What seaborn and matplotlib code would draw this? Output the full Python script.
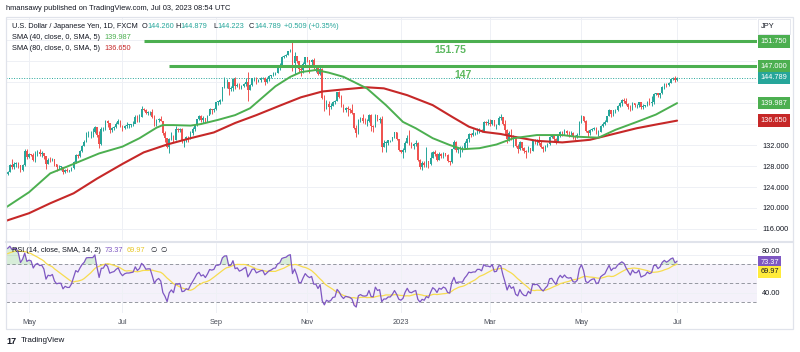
import numpy as np
import pandas as pd
import matplotlib
matplotlib.use("Agg")
import matplotlib.pyplot as plt
import matplotlib.transforms as mtransforms
from matplotlib.patches import Rectangle
from matplotlib.lines import Line2D
import seaborn as sns

# === DATA: USD/JPY daily candles, FXCM, 2022-04-14 .. 2023-07-03 ===
FIRST_OPEN = 125.6

closes = [
    # Apr 2022
    126.1, 126.4, 126.9, 128.2, 127.9, 128.4, 128.5, 128.1, 127.2, 128.2, 130.8, 129.7,
    # May
    130.2, 130.1, 129.1, 130.2, 130.6, 130.3, 130.4, 129.9, 128.3, 129.2, 129.1, 129.4, 128.3, 127.8, 127.9, 127.9, 126.9, 127.3, 127.1, 127.1, 127.6, 128.7,
    # Jun
    130.1, 129.9, 130.9, 131.9, 132.6, 134.3, 134.4, 134.4, 134.4, 135.5, 133.9, 132.2, 135.0, 135.1, 136.6, 136.2, 134.9, 135.2, 135.4, 136.1, 136.6, 135.7,
    # Jul
    135.2, 135.7, 135.9, 135.9, 136.0, 136.1, 137.4, 136.9, 137.4, 138.9, 138.6, 138.1, 138.2, 138.2, 137.3, 136.1, 136.7, 137.0, 136.6, 134.3, 133.3,
    # Aug
    131.6, 133.2, 133.8, 133.0, 135.0, 134.9, 135.1, 132.9, 133.0, 133.5, 133.3, 134.2, 135.0, 135.9, 137.0, 137.5, 136.8, 137.1, 136.6, 137.5, 138.8, 138.7, 138.9,
    # Sep
    140.2, 140.2, 140.5, 143.0, 144.0, 144.1, 142.6, 142.8, 144.6, 143.2, 143.5, 142.9, 143.2, 143.7, 144.1, 142.4, 143.4, 144.7, 144.8, 144.1, 144.4, 144.7,
    # Oct
    144.8, 144.1, 144.6, 145.1, 145.3, 145.7, 145.8, 146.9, 147.2, 148.7, 149.0, 149.2, 149.9, 150.2, 147.7, 149.0, 148.0, 146.4, 146.3, 147.5, 148.7,
    # Nov
    148.2, 147.9, 148.2, 146.6, 146.6, 145.6, 146.4, 141.0, 138.8, 139.9, 139.3, 139.5, 140.2, 140.3, 142.1, 141.2, 139.6, 138.6, 139.1, 138.9, 138.7, 138.1,
    # Dec
    135.3, 134.3, 136.8, 137.1, 136.6, 136.5, 136.6, 137.7, 135.6, 135.5, 137.8, 136.7, 136.9, 131.7, 132.4, 132.4, 132.9, 132.9, 133.5, 134.4, 133.1, 131.1,
    # Jan 2023
    130.6, 131.0, 132.4, 133.4, 132.1, 131.9, 132.2, 132.4, 129.2, 127.9, 128.5, 128.1, 128.9, 128.4, 129.6, 130.7, 130.2, 129.2, 130.2, 129.9, 130.4, 130.1,
    # Feb
    128.9, 128.7, 131.2, 132.6, 131.1, 131.4, 131.4, 131.4, 132.4, 133.1, 134.1, 134.0, 134.2, 134.2, 134.9, 134.9, 134.7, 136.4, 136.2, 136.2,
    # Mar
    136.1, 136.7, 135.8, 135.9, 137.2, 137.3, 136.1, 134.9, 133.2, 134.2, 133.4, 133.7, 131.8, 131.3, 132.5, 131.4, 130.8, 130.7, 131.5, 130.9, 132.8, 132.7, 132.8,
    # Apr
    132.4, 131.7, 131.3, 131.8, 132.2, 133.6, 133.7, 133.1, 132.6, 133.8, 134.5, 134.1, 134.7, 134.3, 134.2, 134.3, 133.7, 133.6, 133.9, 136.3,
    # May
    137.5, 136.6, 134.6, 134.3, 134.8, 135.1, 135.2, 134.3, 134.5, 135.7, 136.1, 136.4, 137.5, 138.7, 137.9, 138.6, 138.6, 139.5, 140.1, 140.6, 140.4, 139.8, 139.3,
    # Jun
    138.8, 140.0, 139.6, 139.6, 140.2, 139.2, 139.4, 139.6, 140.2, 140.0, 140.2, 141.8, 141.9, 141.5, 141.9, 143.1, 143.7, 143.5, 143.9, 144.5, 144.8, 144.3,
    # Jul
    144.789,
]

highs = [
    126.3, 126.7, 127.1, 128.4, 129.4, 128.7, 128.8, 128.7, 128.1, 128.4, 131.2, 131.2,
    130.4, 130.3, 130.4, 130.8, 131.0, 131.3, 130.8, 130.5, 130.0, 129.5, 129.7, 129.5, 129.4, 128.4, 128.2, 128.0, 127.9, 127.4, 127.6, 127.3, 127.8, 128.9,
    130.2, 130.2, 131.0, 132.0, 133.0, 134.5, 134.6, 134.6, 135.2, 135.6, 135.4, 134.7, 135.4, 135.4, 136.7, 136.7, 136.1, 135.4, 135.6, 136.4, 137.0, 136.8,
    135.9, 135.9, 136.4, 136.0, 136.1, 136.6, 137.7, 137.8, 137.9, 139.4, 139.1, 138.9, 138.4, 138.4, 138.9, 137.7, 136.9, 137.2, 137.5, 136.6, 134.6,
    133.4, 133.4, 134.5, 134.0, 135.6, 135.2, 135.2, 135.2, 133.2, 133.8, 133.8, 134.6, 135.4, 136.0, 137.0, 137.7, 137.7, 137.5, 137.1, 137.7, 139.0, 138.9, 139.1,
    140.2, 140.4, 140.8, 143.1, 145.0, 144.5, 144.1, 143.2, 144.7, 144.9, 143.9, 143.8, 143.4, 143.9, 144.7, 145.9, 143.6, 144.8, 144.9, 144.9, 144.6, 144.9,
    145.0, 144.9, 144.9, 145.3, 145.4, 145.9, 145.9, 146.9, 147.7, 148.9, 149.1, 149.4, 150.0, 150.3, 151.95, 149.7, 149.0, 148.0, 146.8, 147.9, 148.8,
    148.8, 148.3, 148.4, 148.5, 147.2, 146.7, 146.8, 146.6, 141.5, 140.6, 140.3, 140.0, 140.4, 140.6, 142.2, 142.3, 141.5, 139.8, 139.3, 139.4, 139.0, 139.9,
    138.1, 135.8, 137.0, 137.3, 137.9, 137.1, 136.9, 137.9, 138.0, 135.9, 138.0, 137.8, 137.4, 137.5, 132.9, 132.7, 133.0, 133.0, 133.6, 134.5, 134.5, 133.2,
    131.1, 131.4, 132.7, 134.0, 134.8, 132.6, 132.3, 132.9, 132.5, 129.3, 128.9, 128.9, 131.6, 128.9, 130.6, 130.9, 131.1, 130.4, 130.6, 130.4, 130.6, 130.5,
    130.2, 128.9, 131.2, 132.9, 132.7, 131.6, 131.8, 131.9, 132.7, 133.3, 134.3, 134.3, 135.1, 134.4, 135.2, 135.2, 135.1, 136.5, 136.5, 136.9,
    137.0, 136.8, 136.7, 136.0, 137.5, 137.9, 137.3, 136.7, 135.1, 134.6, 135.1, 134.0, 133.7, 132.2, 132.7, 132.6, 131.7, 131.0, 131.8, 131.4, 132.9, 133.1, 133.2,
    133.7, 132.7, 131.8, 132.0, 132.4, 133.8, 134.0, 133.9, 133.3, 133.9, 134.6, 134.6, 135.1, 134.9, 134.6, 134.7, 134.4, 134.0, 134.2, 136.6,
    137.8, 137.6, 136.7, 134.8, 135.1, 135.3, 135.5, 135.4, 134.8, 135.8, 136.3, 136.7, 137.6, 138.8, 138.7, 138.7, 138.9, 139.6, 140.2, 140.7, 140.9, 140.9, 140.0,
    139.6, 140.2, 140.1, 139.8, 140.2, 140.2, 139.9, 139.7, 140.3, 140.9, 141.3, 141.9, 142.0, 142.0, 142.0, 143.2, 143.9, 143.8, 144.1, 144.6, 145.0, 145.1,
    144.879,
]

lows = [
    125.4, 126.0, 126.2, 126.8, 127.5, 127.4, 127.8, 127.7, 126.9, 127.0, 128.0, 129.4,
    129.5, 129.9, 128.9, 128.8, 130.0, 130.0, 129.8, 129.4, 127.5, 128.3, 128.8, 128.9, 128.0, 127.0, 127.5, 127.3, 126.4, 126.6, 126.9, 126.8, 127.0, 127.5,
    128.6, 129.5, 129.7, 130.7, 131.8, 132.5, 133.6, 133.4, 133.6, 134.3, 133.5, 131.5, 132.0, 134.6, 134.9, 135.4, 134.3, 134.5, 134.8, 135.2, 136.0, 135.5,
    134.7, 135.1, 135.3, 135.3, 135.5, 135.6, 136.2, 136.4, 136.4, 137.4, 138.4, 137.9, 137.7, 137.8, 137.2, 135.6, 135.6, 136.4, 136.5, 134.0, 132.5,
    131.5, 130.4, 132.9, 132.6, 132.9, 134.5, 134.5, 132.3, 131.7, 132.5, 132.6, 133.1, 133.9, 134.6, 135.7, 136.8, 136.4, 136.2, 136.3, 136.3, 137.9, 138.0, 138.2,
    138.7, 139.6, 139.9, 140.4, 142.8, 142.9, 141.5, 142.3, 142.3, 142.6, 143.1, 142.6, 142.7, 143.1, 143.3, 140.3, 142.4, 143.3, 144.2, 143.6, 144.0, 144.1,
    144.5, 143.5, 143.9, 144.2, 144.7, 145.2, 145.3, 145.7, 146.3, 147.1, 148.5, 148.8, 149.1, 149.7, 146.2, 145.5, 147.6, 145.9, 145.1, 145.8, 147.3,
    147.9, 145.7, 147.2, 146.5, 146.0, 145.3, 145.3, 140.8, 138.5, 138.8, 137.7, 138.8, 139.5, 139.9, 140.3, 141.0, 139.2, 138.3, 138.2, 137.5, 138.1, 137.9,
    135.0, 133.6, 134.1, 136.4, 136.2, 136.1, 135.7, 136.4, 134.7, 134.5, 135.4, 136.6, 136.2, 130.6, 131.6, 130.6, 132.1, 132.6, 132.7, 133.4, 132.9, 130.8,
    130.5, 129.5, 130.6, 132.3, 132.0, 131.4, 131.3, 131.9, 128.9, 127.5, 127.2, 127.8, 127.9, 127.6, 128.1, 129.6, 130.0, 129.0, 129.1, 129.6, 129.5, 129.9,
    128.7, 128.1, 128.5, 131.2, 130.6, 130.5, 129.8, 130.7, 131.3, 131.5, 132.6, 133.6, 133.8, 133.9, 134.1, 134.3, 134.4, 134.7, 135.9, 135.9,
    135.7, 135.8, 135.7, 135.1, 135.8, 136.8, 135.9, 134.1, 132.3, 132.7, 133.0, 131.7, 131.6, 130.5, 131.1, 131.1, 130.4, 129.6, 130.6, 130.4, 130.9, 132.2, 132.1,
    132.0, 131.4, 130.6, 130.9, 131.6, 132.1, 133.3, 132.8, 132.2, 132.5, 133.5, 133.8, 133.9, 134.0, 133.5, 133.9, 133.1, 133.0, 133.3, 133.9,
    136.2, 136.3, 134.4, 133.5, 133.9, 134.6, 134.9, 134.1, 133.7, 134.4, 135.5, 135.9, 136.3, 137.5, 137.4, 137.6, 138.1, 138.5, 139.2, 139.5, 140.1, 139.6, 138.9,
    138.4, 138.7, 139.3, 139.1, 139.3, 138.8, 138.8, 139.2, 139.4, 139.7, 139.4, 139.9, 141.5, 141.2, 141.0, 141.8, 142.7, 143.0, 143.2, 143.8, 144.4, 144.1,
    144.223,
]

# closes before the visible window (Mar 1 .. Apr 13 2022), only used to warm up the RSI
warmup_closes = [
    114.9, 115.5, 115.5, 114.8, 115.3, 115.7, 115.8, 116.1, 117.3, 118.2, 118.3, 118.7,
    118.6, 119.2, 119.5, 120.8, 121.1, 122.3, 122.1, 123.8, 122.8, 121.8, 121.7,
    122.5, 122.8, 123.6, 123.8, 123.9, 124.3, 125.4, 125.4, 125.6,
]

# moving averages
sma40_dates = ["2022-04-14", "2022-05-02", "2022-05-16", "2022-05-26", "2022-06-08", "2022-06-16",
               "2022-07-01", "2022-07-13", "2022-07-25", "2022-07-28", "2022-08-04", "2022-08-16",
               "2022-08-23", "2022-09-02", "2022-09-14", "2022-09-23", "2022-10-03", "2022-10-11",
               "2022-10-20", "2022-10-27", "2022-11-07", "2022-11-15", "2022-11-24", "2022-12-09",
               "2022-12-22", "2023-01-03", "2023-01-11", "2023-01-23", "2023-02-02", "2023-02-10",
               "2023-02-22", "2023-03-06", "2023-03-16", "2023-03-31", "2023-04-18", "2023-04-26",
               "2023-05-11", "2023-05-23", "2023-06-06", "2023-06-19", "2023-07-03"]
sma40_values = [119.8, 123.0, 126.6, 127.9, 129.4, 130.4,
                131.7, 133.3, 135.3, 135.8, 135.8, 135.7,
                136.0, 136.8, 137.7, 139.0, 141.1, 143.2,
                145.0, 145.9, 146.3, 145.8, 145.0, 142.8,
                139.6, 136.4, 135.2, 133.3, 132.0, 131.2,
                131.4, 132.1, 133.3, 133.9, 133.9, 133.6,
                133.4, 134.9, 136.4, 137.8, 139.987]

sma80_dates = ["2022-04-14", "2022-05-02", "2022-05-16", "2022-05-31", "2022-06-15", "2022-07-01",
               "2022-07-15", "2022-08-01", "2022-08-16", "2022-08-31", "2022-09-14", "2022-09-28",
               "2022-10-13", "2022-10-27", "2022-11-10", "2022-11-24", "2022-12-09", "2022-12-21",
               "2023-01-05", "2023-01-23", "2023-02-03", "2023-02-15", "2023-02-24", "2023-03-08",
               "2023-03-16", "2023-03-31", "2023-04-18", "2023-05-05", "2023-05-18", "2023-06-06",
               "2023-06-19", "2023-07-03"]
sma80_values = [117.4, 119.0, 120.9, 122.8, 125.6, 128.4,
                130.6, 132.1, 133.3, 134.4, 136.2, 137.7,
                139.5, 141.1, 142.2, 142.6, 143.0, 142.8,
                141.5, 139.6, 137.4, 135.5, 134.5, 134.1,
                133.6, 132.8, 132.5, 133.0, 133.9, 135.2,
                135.9, 136.65]

level_values = [151.75, 147.0]
level_texts = ["151.75", "147"]
level_starts = ["2022-07-15", "2022-08-02"]

last_close = 144.789
sma40_last = 139.987
sma80_last = 136.650
rsi_last = 73.37
rsi_ma_last = 69.97

tick_months = ["2022-05", "2022-07", "2022-09", "2022-11", "2023-01", "2023-03", "2023-05", "2023-07"]
tick_labels = ["May", "Jul", "Sep", "Nov", "2023", "Mar", "May", "Jul"]
price_ticks = list(range(116, 157, 4))

# === STYLE / LAYOUT ===
W, H = 800, 352
PLOT_L, PLOT_R = 6, 757
MAIN_T, MAIN_B = 17, 240
RSI_T, RSI_B = 243, 313
XLIM = (1.18, 354.6)
MAIN_YLIM = (113.9, 156.4)
RSI_YLIM = (18.9, 92.6)

UP, DOWN = "#26a69a", "#ef5350"
GREEN, DARKRED = "#4caf50", "#c62828"
PURPLE, YELLOW = "#7e57c2", "#f7dc4f"
TXT, GRID, FRAME = "#131722", "#eef0f5", "#e0e3eb"
FS = 5.3

sns.set_theme(style="white")
plt.rcParams["font.family"] = ["Liberation Sans", "DejaVu Sans"]


def fx(px):
    return px / W


def fy(py):
    return 1 - py / H


# === BUILD SERIES ===
dates = pd.bdate_range("2022-04-14", "2023-07-03")
assert len(dates) == len(closes) == len(highs) == len(lows)
x = np.arange(len(dates))
c = np.array(closes)
o = np.array([FIRST_OPEN] + closes[:-1])
hi = np.array(highs)
lo = np.array(lows)

all_close = pd.Series(warmup_closes + closes)
delta = all_close.diff()
gain = delta.clip(lower=0).ewm(alpha=1 / 14, adjust=False).mean()
loss = (-delta.clip(upper=0)).ewm(alpha=1 / 14, adjust=False).mean()
rsi_all = 100 - 100 / (1 + gain / loss)
rsi_ma_all = rsi_all.rolling(14).mean()
rsi = rsi_all.iloc[len(warmup_closes):].to_numpy()
rsi_ma = rsi_ma_all.iloc[len(warmup_closes):].to_numpy()

idx40 = dates.get_indexer(pd.to_datetime(sma40_dates))
idx80 = dates.get_indexer(pd.to_datetime(sma80_dates))
tick_pos = [int(np.argmax(dates.strftime("%Y-%m") == m)) for m in tick_months]

# === FIGURE ===
fig = plt.figure(figsize=(W / 100, H / 100), dpi=100)
fig.patch.set_facecolor("white")
ax = fig.add_axes([fx(PLOT_L), fy(MAIN_B), fx(PLOT_R - PLOT_L), (MAIN_B - MAIN_T) / H])
ax_r = fig.add_axes([fx(PLOT_L), fy(RSI_B), fx(PLOT_R - PLOT_L), (RSI_B - RSI_T) / H], sharex=ax)

for a in (ax, ax_r):
    for s in a.spines.values():
        s.set_visible(False)
    a.set_facecolor("white")
    a.grid(True, color=GRID, lw=0.7)
    a.set_axisbelow(True)
    a.yaxis.tick_right()
    a.tick_params(axis="both", length=0, labelsize=FS, labelcolor=TXT)

# --- candles ---
col = np.where(c >= o, UP, DOWN)
ax.vlines(x, lo, hi, colors=col, lw=0.7, zorder=2)
body_lo = np.minimum(o, c)
body_h = np.maximum(np.abs(c - o), 0.1)
ax.bar(x, body_h, bottom=body_lo, width=0.78, color=col, lw=0, zorder=3)

# --- moving averages ---
sns.lineplot(x=idx80, y=sma80_values, ax=ax, color=DARKRED, lw=1.5, estimator=None, legend=False, zorder=4)
sns.lineplot(x=idx40, y=sma40_values, ax=ax, color=GREEN, lw=1.4, estimator=None, legend=False, zorder=5)

# --- horizontal levels ---
for val, txt, start in zip(level_values, level_texts, level_starts):
    i0 = dates.get_loc(pd.Timestamp(start))
    ax.hlines(val, i0, XLIM[1], color=GREEN, lw=2.2, zorder=6)
    ax.text((i0 + XLIM[1]) / 2, val - 0.75, txt, ha="center", va="top", color="#5cb860",
            fontsize=7.5, fontweight="bold", zorder=7)

ax.axhline(last_close, color=UP, lw=0.7, ls=(0, (1, 1.6)), zorder=1)

# price scale: labels hidden where a value box sits on top of them
box_values = [151.75, 147.0, last_close, sma40_last, sma80_last]
ax.set_xlim(*XLIM)
ax.set_ylim(*MAIN_YLIM)
ax.set_yticks(price_ticks)
ax.set_yticklabels(["" if (v == 156 or min(abs(v - b) for b in box_values) < 2.2) else f"{v:.3f}"
                    for v in price_ticks])
ax.tick_params(axis="y", pad=3.6)
ax.set_xticks(tick_pos)
ax.tick_params(axis="x", labelbottom=False)
ax.set_xlabel("")
ax.set_ylabel("")

lab_tr = mtransforms.blended_transform_factory(fig.transFigure, ax.transData)
for val, fc in [(151.75, GREEN), (147.0, GREEN), (last_close, UP), (sma40_last, GREEN), (sma80_last, DARKRED)]:
    ax.text(fx(760.5), val, f"{val:.3f}", transform=lab_tr, ha="left", va="center", fontsize=FS,
            color="white", zorder=10, clip_on=False,
            bbox=dict(boxstyle="square,pad=0.38", fc=fc, ec="none"))

# --- RSI pane ---
ax_r.axhspan(30, 70, color=PURPLE, alpha=0.08, lw=0, zorder=0)
for lvl in (70, 50, 30):
    ax_r.axhline(lvl, color="#9598a1", lw=0.7, ls=(0, (3.5, 2.5)), zorder=1)
ax_r.fill_between(x, rsi, 70, where=rsi >= 70, interpolate=True, color="#4caf50", alpha=0.22, lw=0, zorder=2)
ax_r.fill_between(x, rsi, 30, where=rsi <= 30, interpolate=True, color="#ef5350", alpha=0.22, lw=0, zorder=2)
sns.lineplot(x=x, y=rsi_ma, ax=ax_r, color=YELLOW, lw=0.9, estimator=None, legend=False, zorder=3)
sns.lineplot(x=x, y=rsi, ax=ax_r, color=PURPLE, lw=0.9, estimator=None, legend=False, zorder=4)
ax_r.set_ylim(*RSI_YLIM)
ax_r.set_yticks([40, 80])
ax_r.set_yticklabels(["40.00", "80.00"])
ax_r.tick_params(axis="y", pad=3.6)
for t in ax_r.get_yticklabels():
    if t.get_text() == "80.00":
        t.set_va("bottom")
ax_r.set_xticks(tick_pos)
ax_r.set_xticklabels(tick_labels)
ax_r.tick_params(axis="x", pad=4.0, labelcolor="#4a4e59")
ax_r.set_xlabel("")
ax_r.set_ylabel("")

rsi_tr = mtransforms.blended_transform_factory(fig.transFigure, ax_r.transData)
ax_r.text(fx(760.5), rsi_last - 1.0, f"{rsi_last:.2f}", transform=rsi_tr, ha="left", va="center", fontsize=FS,
          color="white", zorder=10, clip_on=False, bbox=dict(boxstyle="square,pad=0.32", fc=PURPLE, ec="none"))
ax_r.text(fx(760.5), rsi_last - 11.0, f"{rsi_ma_last:.2f}", transform=rsi_tr, ha="left", va="center",
          fontsize=FS, color=TXT, zorder=10, clip_on=False,
          bbox=dict(boxstyle="square,pad=0.32", fc="#ffeb3b", ec="none"))

# === FRAME & SEPARATORS ===
fig.add_artist(Rectangle((fx(6), fy(329)), fx(793 - 6), (329 - 17) / H, transform=fig.transFigure,
                         fill=False, ec=FRAME, lw=0.9))
fig.add_artist(Line2D([fx(6), fx(793)], [fy(241.5)] * 2, transform=fig.transFigure, color=FRAME, lw=1.5))
fig.add_artist(Rectangle((fx(758), fy(34)), fx(32), 15 / H, transform=fig.transFigure,
                         fc="white", ec=FRAME, lw=0.6, zorder=5))
fig.text(fx(761), fy(26.5), "JPY", fontsize=FS, color=TXT, va="center", zorder=6)

# === TEXTS ===
fig.text(fx(6), fy(8), "hmansawy published on TradingView.com, Jul 03, 2023 08:54 UTC",
         fontsize=5.4, color=TXT, va="center")

legend_parts = [
    (12, "U.S. Dollar / Japanese Yen, 1D, FXCM", TXT),
    (142, "O", TXT), (147, "144.260", UP),
    (175, "H", TXT), (180.5, "144.879", UP),
    (213, "L", TXT), (217.5, "144.223", UP),
    (249, "C", TXT), (254.5, "144.789", UP),
    (284, "+0.509 (+0.35%)", UP),
]
for px, s, colr in legend_parts:
    fig.text(fx(px), fy(26), s, fontsize=FS, color=colr, va="center")

fig.text(fx(12), fy(37.5), "SMA (40, close, 0, SMA, 5)", fontsize=FS, color=TXT, va="center")
fig.text(fx(104), fy(37.5), f"{sma40_last:.3f}", fontsize=FS, color=GREEN, va="center")
fig.text(fx(12), fy(49), "SMA (80, close, 0, SMA, 5)", fontsize=FS, color=TXT, va="center")
fig.text(fx(104), fy(49), f"{sma80_last:.3f}", fontsize=FS, color=DARKRED, va="center")

fig.text(fx(11.5), fy(250.5), "RSI (14, close, SMA, 14, 2)", fontsize=FS, color=TXT, va="center")
fig.text(fx(104.5), fy(250.5), f"{rsi_last:.2f}", fontsize=FS, color=PURPLE, va="center")
fig.text(fx(127), fy(250.5), f"{rsi_ma_last:.2f}", fontsize=FS, color="#e8c82a", va="center")
fig.text(fx(150), fy(250.5), "\u2205", fontsize=FS, color=TXT, va="center")
fig.text(fx(160.5), fy(250.5), "\u2205", fontsize=FS, color=TXT, va="center")

fig.text(fx(6.5), fy(341), "17", fontsize=6.5, fontweight="bold", color=TXT, va="center")
fig.text(fx(21), fy(341), "TradingView", fontsize=5.8, color=TXT, va="center")

fig.savefig("out.png", dpi=100, facecolor="white")
